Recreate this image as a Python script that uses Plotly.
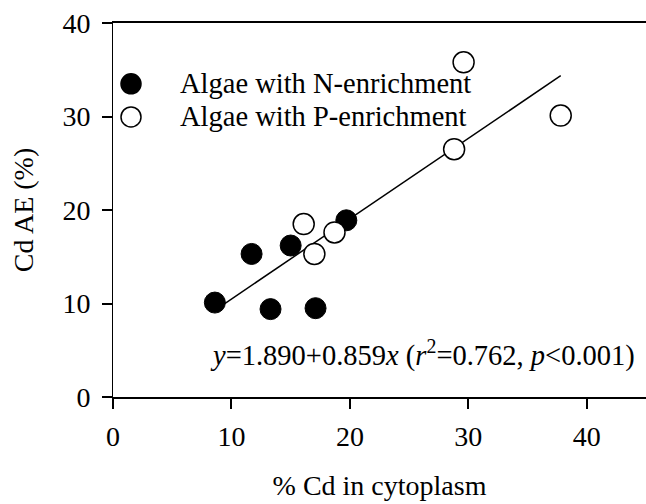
import plotly.graph_objects as go

# Data
series_names = ["Algae with N-enrichment", "Algae with P-enrichment"]
n_x = [8.6, 11.7, 13.3, 15.0, 17.1, 19.7]
n_y = [10.1, 15.3, 9.4, 16.2, 9.5, 18.9]
p_x = [16.1, 17.0, 18.7, 28.8, 29.6, 37.8]
p_y = [18.5, 15.3, 17.6, 26.5, 35.8, 30.1]

intercept = 1.890
slope = 0.859

x_ticks = [0, 10, 20, 30, 40]
y_ticks = [0, 10, 20, 30, 40]

FONT = "Liberation Serif"
FS = 28
FS_TXT = 28.5

all_x = n_x + p_x
fit_x = [min(all_x), max(all_x)]
fit_y = [intercept + slope * v for v in fit_x]

fig = go.Figure()
fig.add_trace(go.Scatter(x=fit_x, y=fit_y, mode="lines",
                         line=dict(color="black", width=1.5),
                         showlegend=False, hoverinfo="skip"))
fig.add_trace(go.Scatter(x=n_x, y=n_y, mode="markers", name=series_names[0],
                         showlegend=False,
                         marker=dict(size=21, color="black",
                                     line=dict(color="black", width=1))))
fig.add_trace(go.Scatter(x=p_x, y=p_y, mode="markers", name=series_names[1],
                         showlegend=False,
                         marker=dict(size=21, color="white",
                                     line=dict(color="black", width=1.5))))

# Legend key drawn as layout shapes + text (positions in axis units)
legend_rows = [33.5, 29.95]
legend_fill = ["black", "white"]
for name, yy, fc in zip(series_names, legend_rows, legend_fill):
    fig.add_shape(type="circle", xref="x", yref="y",
                  xsizemode="pixel", ysizemode="pixel",
                  xanchor=1.52, yanchor=yy, x0=-10, x1=10, y0=-10, y1=10,
                  fillcolor=fc, line=dict(color="black", width=1.5))
    fig.add_annotation(x=5.45, y=yy, xref="x", yref="y", xanchor="left",
                       yanchor="middle", text=name, showarrow=False,
                       font=dict(family=FONT, size=FS_TXT, color="black"))

fig.add_annotation(
    x=44.2, y=4.6, xref="x", yref="y", xanchor="right", yanchor="middle",
    text="<i>y</i>=1.890+0.859<i>x</i> (<i>r</i><sup>2</sup>=0.762, <i>p</i>&lt;0.001)",
    showarrow=False, font=dict(family=FONT, size=FS_TXT, color="black"))

fig.update_layout(
    width=646, height=504,
    margin=dict(l=113, r=0, t=23, b=107),
    paper_bgcolor="white", plot_bgcolor="white",
    font=dict(family=FONT, size=FS, color="black"),
    showlegend=False,
    xaxis=dict(range=[0, 45], tickvals=x_ticks, ticks="outside", ticklen=10,
               tickwidth=1.5, tickcolor="black", showline=True, linecolor="black",
               linewidth=1.5, mirror=True, showgrid=False, zeroline=False,
               ticklabelstandoff=4,
               title=dict(text="% Cd in cytoplasm", standoff=24,
                          font=dict(family=FONT, size=FS)),
               tickfont=dict(family=FONT, size=FS)),
    yaxis=dict(range=[0, 40], tickvals=y_ticks, ticks="outside", ticklen=10,
               tickwidth=1.5, tickcolor="black", showline=True, linecolor="black",
               linewidth=1, showgrid=False, zeroline=False,
               ticklabelstandoff=6,
               title=dict(text="Cd AE (%)", standoff=20,
                          font=dict(family=FONT, size=FS)),
               tickfont=dict(family=FONT, size=FS)),
)

fig.write_html("out.html")
